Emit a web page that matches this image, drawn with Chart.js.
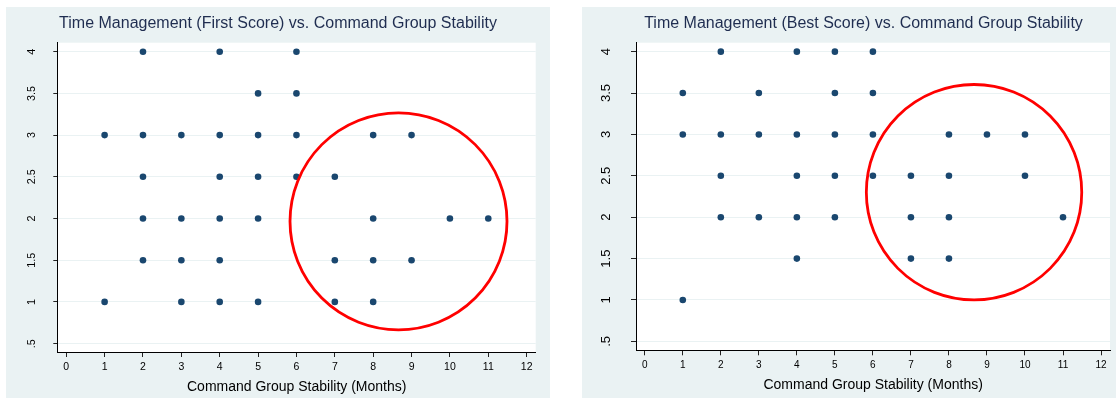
<!DOCTYPE html>
<html><head><meta charset="utf-8">
<script src="https://cdn.jsdelivr.net/npm/chart.js@4.4.1/dist/chart.umd.min.js"></script>
<style>
html,body{margin:0;padding:0;background:#fff;width:1116px;height:398px;overflow:hidden;position:relative;}
.panel{position:absolute;top:7px;height:391px;background:#eaf2f3;overflow:hidden;}
#p1{left:6px;width:544px;}
#p2{left:582px;width:563px;}
canvas{display:block;}
</style></head><body>
<div class="panel" id="p1"><canvas id="c1" width="544" height="391"></canvas></div>
<div class="panel" id="p2"><canvas id="c2" width="563" height="391"></canvas></div>
<script>
// ---- data ----
const xTickValues = [0,1,2,3,4,5,6,7,8,9,10,11,12];
const xTickLabels = ['0','1','2','3','4','5','6','7','8','9','10','11','12'];
const yTickValues = [0.5,1,1.5,2,2.5,3,3.5,4];
const yTickLabels = ['.5','1','1.5','2','2.5','3','3.5','4'];

const chartTitles = [
  'Time Management (First Score) vs. Command Group Stability',
  'Time Management (Best Score) vs. Command Group Stability'
];
const xAxisTitle = 'Command Group Stability (Months)';

const firstScoreMonths = [2,4,6, 5,6, 1,2,3,4,5,6,8,9, 2,4,5,6,7, 2,3,4,5,8,10,11, 2,3,4,7,8,9, 1,3,4,5,7,8];
const firstScoreValues = [4,4,4, 3.5,3.5, 3,3,3,3,3,3,3,3, 2.5,2.5,2.5,2.5,2.5, 2,2,2,2,2,2,2, 1.5,1.5,1.5,1.5,1.5,1.5, 1,1,1,1,1,1];

const bestScoreMonths = [2,4,5,6, 1,3,5,6, 1,2,3,4,5,6,8,9,10, 2,4,5,6,7,8,10, 2,3,4,5,7,8,11, 4,7,8, 1];
const bestScoreValues = [4,4,4,4, 3.5,3.5,3.5,3.5, 3,3,3,3,3,3,3,3,3, 2.5,2.5,2.5,2.5,2.5,2.5,2.5, 2,2,2,2,2,2,2, 1.5,1.5,1.5, 1];

// highlight circle centres (data units), one per chart
const highlightMonths = [8.66, 8.66];
const highlightScores = [1.966, 2.302];

// ---- drawing ----
const FONT = "'Liberation Sans', Arial, sans-serif";

const whitePlot = {
  id: 'whitePlot',
  beforeDraw(chart) {
    const {ctx, chartArea: a} = chart;
    ctx.save();
    ctx.fillStyle = '#ffffff';
    ctx.fillRect(a.left, a.top, a.right - a.left, a.bottom - a.top);
    ctx.restore();
  }
};

function buildChart(id, cfg) {
  const pts = cfg.months.map((m, i) => ({x: m, y: cfg.values[i]}));
  return new Chart(document.getElementById(id), {
    type: 'scatter',
    data: {
      datasets: [
        {
          data: [{x: cfg.hx, y: cfg.hy}],
          xAxisID: 'x', yAxisID: 'y',
          pointRadius: cfg.circleR,
          pointBackgroundColor: 'rgba(0,0,0,0)',
          pointBorderColor: '#ff0000',
          pointBorderWidth: 2.8,
          clip: false,
          order: 0
        },
        {
          data: pts,
          xAxisID: 'x', yAxisID: 'y',
          pointRadius: 3.3,
          pointBackgroundColor: '#1a476f',
          pointBorderColor: '#1a476f',
          pointBorderWidth: 0,
          order: 1
        }
      ]
    },
    options: {
      responsive: false,
      animation: false,
      events: [],
      layout: {padding: 0, autoPadding: false},
      plugins: {
        legend: {display: false},
        tooltip: {enabled: false},
        title: {
          display: true,
          text: cfg.title,
          color: '#1f2d50',
          font: {family: FONT, size: 16, weight: 'normal'},
          padding: {top: 7.4, bottom: 9.1}
        }
      },
      scales: {
        x: {
          type: 'linear', position: 'bottom', min: -0.223, max: 12.236,
          afterBuildTicks: s => { s.ticks = xTickValues.map(v => ({value: v})); },
          afterFit: s => { s.height = cfg.xH; },
          ticks: {
            callback: (v, i) => xTickLabels[i],
            font: {family: FONT, size: cfg.xFont}, color: '#000',
            padding: cfg.xPad, maxRotation: 0, minRotation: 0, autoSkip: false
          },
          grid: {drawOnChartArea: false, drawTicks: true, tickLength: cfg.xTL, tickColor: '#222', tickWidth: 1},
          border: {display: true, color: '#000', width: 1},
          title: {
            display: true, text: xAxisTitle, color: '#000',
            font: {family: FONT, size: 14},
            padding: {top: 0, bottom: cfg.xTitlePad}
          }
        },
        y: {
          type: 'linear', position: 'left', min: 0.396, max: 4.108,
          afterBuildTicks: s => { s.ticks = yTickValues.map(v => ({value: v})); },
          afterFit: s => { s.width = cfg.yW; },
          ticks: {
            callback: (v, i) => yTickLabels[i],
            font: {family: FONT, size: cfg.yFont}, color: '#000',
            padding: cfg.yPad, minRotation: 90, maxRotation: 90,
            crossAlign: 'center', autoSkip: false
          },
          grid: {color: '#eaf2f3', lineWidth: 1, drawTicks: true, tickLength: cfg.yTL, tickColor: '#222', tickWidth: 1},
          border: {display: true, color: '#000', width: 1}
        },
        pad: {
          axis: 'y', type: 'linear', position: 'right', display: true, min: 0, max: 1,
          ticks: {display: false}, grid: {display: false}, border: {display: false},
          afterFit: s => { s.width = cfg.rW; }
        }
      }
    },
    plugins: [whitePlot]
  });
}

buildChart('c1', {
  title: chartTitles[0], months: firstScoreMonths, values: firstScoreValues,
  hx: highlightMonths[0], hy: highlightScores[0], circleR: 108.5,
  yW: 51.7, rW: 14.3, xH: 45.7,
  xFont: 10.5, xTL: 4.7, xPad: 4, xTitlePad: 2.6,
  yFont: 10.8, yTL: 4.4, yPad: 13.3
});
buildChart('c2', {
  title: chartTitles[1], months: bestScoreMonths, values: bestScoreValues,
  hx: highlightMonths[1], hy: highlightScores[1], circleR: 107.7,
  yW: 54.3, rW: 35, xH: 48,
  xFont: 10, xTL: 5.3, xPad: 4, xTitlePad: 4.9,
  yFont: 13, yTL: 5.3, yPad: 16
});
</script>
</body></html>
